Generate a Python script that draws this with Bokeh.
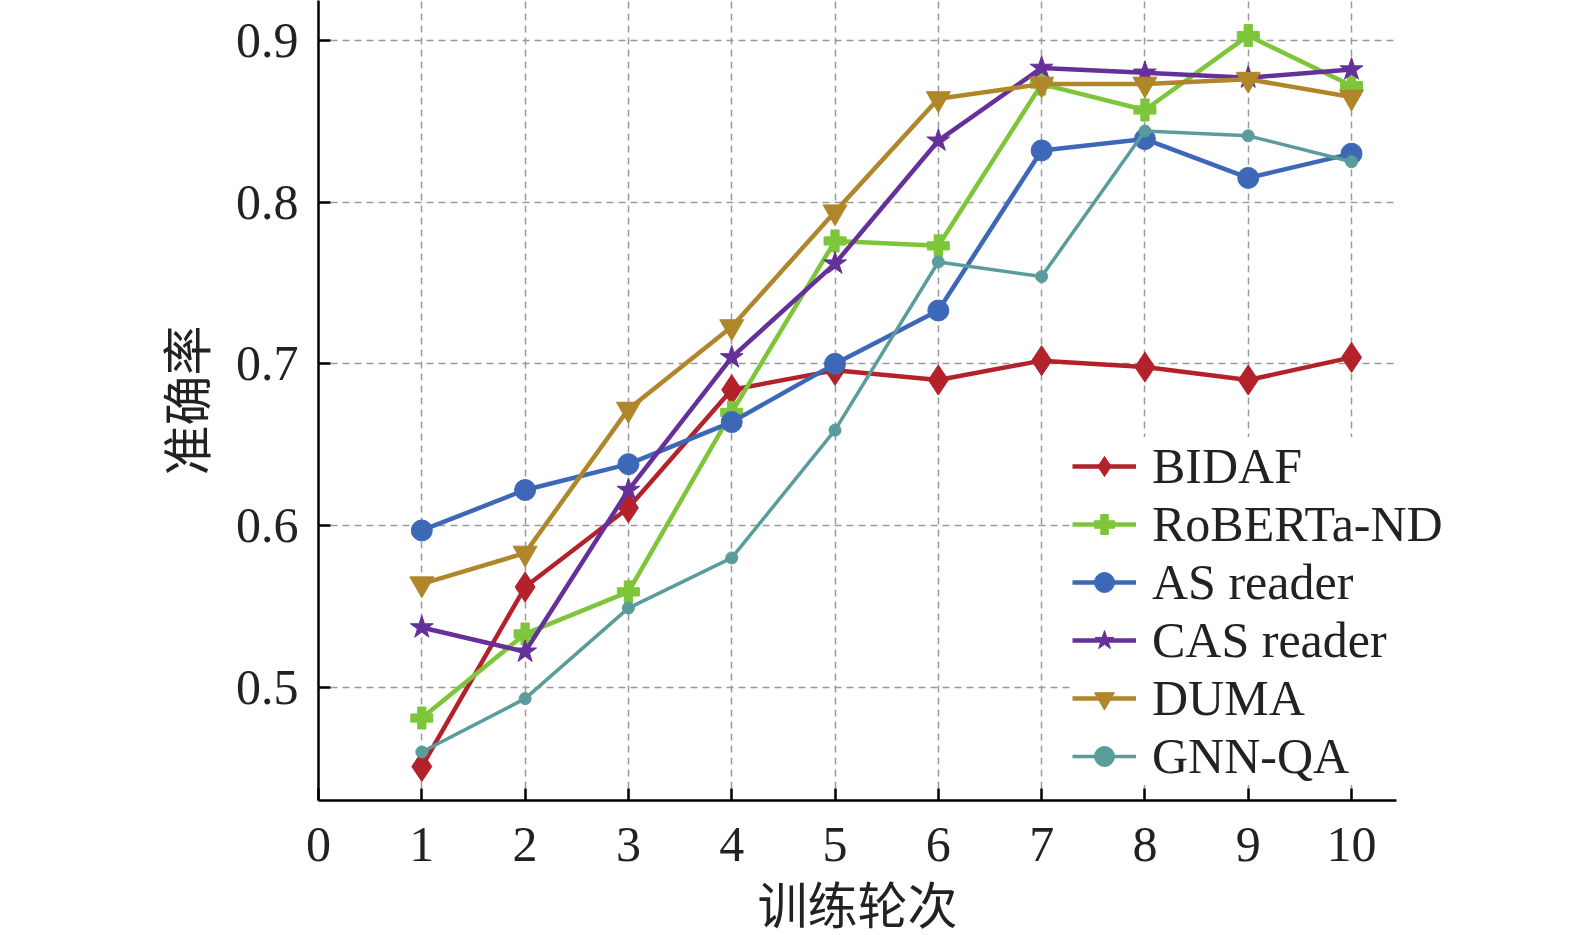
from bokeh.plotting import figure
from bokeh.models import Range1d, FixedTicker, Legend, LegendItem, Title
from bokeh.embed import file_html
from bokeh.resources import INLINE

epochs = [1, 2, 3, 4, 5, 6, 7, 8, 9, 10]
bidaf = [0.451, 0.562, 0.611, 0.684, 0.696, 0.690, 0.702, 0.698, 0.690, 0.704]
roberta = [0.481, 0.533, 0.559, 0.670, 0.776, 0.773, 0.873, 0.857, 0.903, 0.872]
as_reader = [0.597, 0.622, 0.638, 0.664, 0.700, 0.733, 0.832, 0.839, 0.815, 0.830]
cas_reader = [0.537, 0.522, 0.622, 0.704, 0.762, 0.838, 0.883, 0.880, 0.877, 0.882]
duma = [0.564, 0.583, 0.672, 0.723, 0.794, 0.864, 0.873, 0.873, 0.876, 0.865]
gnn_qa = [0.460, 0.493, 0.549, 0.580, 0.659, 0.763, 0.754, 0.844, 0.841, 0.825]

x_ticks = [0, 1, 2, 3, 4, 5, 6, 7, 8, 9, 10]
y_ticks = [0.5, 0.6, 0.7, 0.8, 0.9]
x_title = "训练轮次"
y_title = "准确率"

series = [
    ("BIDAF", bidaf, "#b3222a", "diamond", 30, 4.5),
    ("RoBERTa-ND", roberta, "#7dc63a", "plus", 22, 4.5),
    ("AS reader", as_reader, "#3d68b8", "circle", 21, 4.5),
    ("CAS reader", cas_reader, "#65309a", "star", 24, 4.5),
    ("DUMA", duma, "#b0862a", "inverted_triangle", 24, 4.5),
    ("GNN-QA", gnn_qa, "#5a9c9c", "circle", 12, 3.5),
]

X_END = 10.44

p = figure(frame_width=1157, frame_height=800, output_backend="svg",
           toolbar_location=None,
           x_range=Range1d(0, 11.2), y_range=Range1d(0.43, 0.9247),
           min_border_left=318, min_border_right=0, min_border_top=0,
           min_border_bottom=0)
p.outline_line_color = None
p.background_fill_color = "white"

serif = "Liberation Serif"
mixed = "Liberation Serif, Noto Sans CJK SC"

for ax in (p.xaxis[0], p.yaxis[0]):
    ax.axis_line_color = "black"
    ax.axis_line_width = 2.5
    ax.major_tick_line_color = "black"
    ax.major_tick_line_width = 2.5
    ax.major_tick_in = 12
    ax.major_tick_out = 0
    ax.minor_tick_line_color = None
    ax.major_label_text_font = serif
    ax.major_label_text_font_size = "50px"
    ax.major_label_text_color = "#222222"

p.xaxis.ticker = FixedTicker(ticks=x_ticks)
p.yaxis.ticker = FixedTicker(ticks=y_ticks)
p.xaxis.bounds = (0, X_END)
p.xaxis.major_label_standoff = 27
p.yaxis.major_label_standoff = 20

p.yaxis.axis_label = y_title
p.yaxis.axis_label_text_font = mixed
p.yaxis.axis_label_text_font_size = "50px"
p.yaxis.axis_label_text_font_style = "normal"
p.yaxis.axis_label_text_color = "#222222"
p.yaxis.axis_label_standoff = 16

xt = Title(text=x_title, align="left", offset=439, standoff=26,
           text_font=mixed, text_font_size="50px", text_font_style="normal",
           text_color="#222222")
p.add_layout(xt, "below")

p.xgrid.ticker = FixedTicker(ticks=epochs)
p.ygrid.ticker = FixedTicker(ticks=y_ticks)
try:
    p.ygrid.cross_bounds = (0, X_END)
except Exception:
    pass
for g in (p.xgrid[0], p.ygrid[0]):
    g.grid_line_color = "#9a9a9a"
    g.grid_line_dash = "7 5"
    g.grid_line_width = 1.5

items = []
for name, vals, color, marker, size, lw in series:
    r1 = p.line(epochs, vals, line_color=color, line_width=lw)
    r2 = p.scatter(epochs, vals, marker=marker, size=size, fill_color=color,
                   line_color=color, line_width=1)
    items.append(LegendItem(label=name, renderers=[r1, r2]))

legend = Legend(items=items, location=(754, 15), orientation="vertical",
                background_fill_color="white", background_fill_alpha=1.0,
                border_line_color=None, padding=2, margin=0, spacing=0,
                glyph_width=64, glyph_height=50, label_height=50,
                label_standoff=16, label_text_font=serif,
                label_text_font_size="50px", label_text_color="#222222")
p.add_layout(legend, "center")

open("out.html", "w").write(file_html(p, INLINE))
